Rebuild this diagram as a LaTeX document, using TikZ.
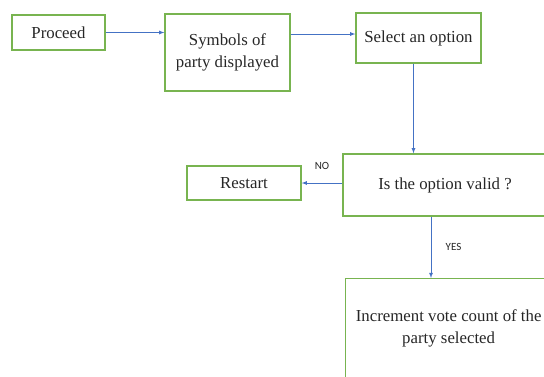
\documentclass[tikz,border=0pt]{standalone}
\usepackage{fontspec}
\setmainfont{Liberation Serif}
\newfontfamily\tagfont{Carlito}
\usetikzlibrary{arrows}
\definecolor{boxgreen}{RGB}{120,180,80}
\definecolor{flowblue}{RGB}{68,114,196}
\tikzset{
    x=1pt, y=-1pt, % one unit per pixel, y runs downwards
    >=latex, % small filled arrow heads
    block/.style={draw=boxgreen, line width=1.3pt, align=center, inner sep=2pt, text=black!85, font=\fontsize{16.8}{22}\selectfont}, % the green boxes
    flow/.style={draw=flowblue, line width=0.8pt, ->}, % the blue connectors
    tag/.style={font=\tagfont\fontsize{11}{13}\selectfont, text=black!85} % NO / YES
}
\begin{document}
\begin{tikzpicture}
		\useasboundingbox (0,0) rectangle (544,376);
		\clip (0,0) rectangle (544,376);
		% Bloques
		\node[block, minimum width=93, minimum height=35] (proceed) at (58.5,32.5) {Proceed};
		\node[block, minimum width=125, minimum height=77] (symbols) at (227.5,52.5) {Symbols of\\party displayed};
		\node[block, minimum width=125, minimum height=50] (select) at (418.5,38) {Select an option};
		\node[block, minimum width=204, minimum height=62] (valid) at (445,185) {Is the option valid ?};
		\node[block, minimum width=114, minimum height=34] (restart) at (244,183) {Restart};
		\node[block, anchor=north west, minimum width=206, minimum height=118] (incr) at (345,278) {Increment vote count of the\\party selected\\~};
		
		% Flechas
		\coordinate (selin) at ([yshift=4pt]select.west);
		\coordinate (selout) at ([xshift=-5pt]select.south);
		\coordinate (validout) at ([xshift=-14pt]valid.south);
		\draw (proceed.east) edge[flow] (proceed.east -| symbols.west);
		\draw (selin -| symbols.east) edge[flow] (selin);
		\draw (selout) edge[flow] (selout |- valid.north);
		\draw (valid.west |- restart) edge[flow] node[tag, above=10pt]{NO} (restart.east);
		\draw (validout) edge[flow] node[tag, right=11pt]{YES} (validout |- incr.north);
	\end{tikzpicture}
\end{document}
